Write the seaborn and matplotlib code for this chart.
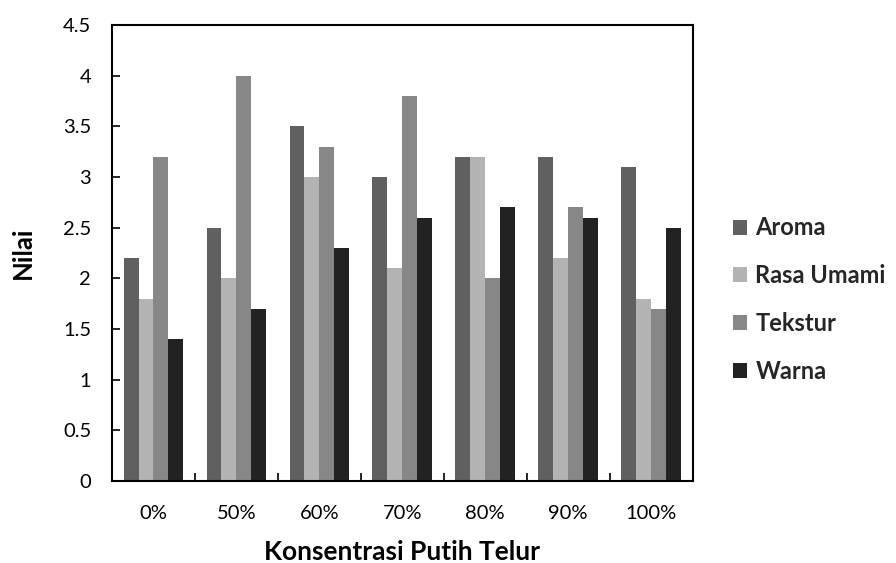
import matplotlib
matplotlib.use("Agg")
import matplotlib.pyplot as plt
import seaborn as sns
import pandas as pd
from matplotlib.patches import Patch
from matplotlib.ticker import FixedLocator

categories = ["0%", "50%", "60%", "70%", "80%", "90%", "100%"]
series_names = ["Aroma", "Rasa Umami", "Tekstur", "Warna"]
aroma = [2.2, 2.5, 3.5, 3.0, 3.2, 3.2, 3.1]
rasa_umami = [1.8, 2.0, 3.0, 2.1, 3.2, 2.2, 1.8]
tekstur = [3.2, 4.0, 3.3, 3.8, 2.0, 2.7, 1.7]
warna = [1.4, 1.7, 2.3, 2.6, 2.7, 2.6, 2.5]
y_ticks = [0, 0.5, 1, 1.5, 2, 2.5, 3, 3.5, 4, 4.5]
y_tick_labels = ["0", "0.5", "1", "1.5", "2", "2.5", "3", "3.5", "4", "4.5"]
colors = ["#606060", "#b3b3b3", "#878787", "#222222"]

rows = []
for name, vals in zip(series_names, [aroma, rasa_umami, tekstur, warna]):
    for c, v in zip(categories, vals):
        rows.append({"Konsentrasi": c, "Series": name, "Nilai": v})
df = pd.DataFrame(rows)

sns.set_theme(style="white")
plt.rcParams["font.family"] = ["Lato", "DejaVu Sans"]

fig = plt.figure(figsize=(8.96, 5.63), dpi=100)
ax = fig.add_axes([0.125, 0.1456, 0.648, 0.81])

sns.barplot(data=df, x="Konsentrasi", y="Nilai", hue="Series", order=categories,
            hue_order=series_names, palette=colors, width=0.72, saturation=1,
            ax=ax, legend=False, errorbar=None, linewidth=0)

ax.set_xlim(-0.5, len(categories) - 0.5)
ax.set_ylim(0, 4.5)
ax.set_yticks(y_ticks)
ax.set_yticklabels(y_tick_labels, fontsize=14.5, color="black")
ax.tick_params(axis="y", direction="in", length=6, width=1.2, color="black", left=True, pad=15)
ax.tick_params(axis="x", which="major", length=0, pad=17, labelsize=14.5, labelcolor="black")
ax.xaxis.set_minor_locator(FixedLocator([i + 0.5 for i in range(len(categories) - 1)]))
ax.tick_params(axis="x", which="minor", direction="in", length=6, width=1.2, color="black", bottom=True)

for s in ax.spines.values():
    s.set_visible(True)
    s.set_color("black")
    s.set_linewidth(1.5)

ax.set_xlabel("Konsentrasi Putih Telur", fontsize=19, fontweight="bold", labelpad=13, color="black")
ax.set_ylabel("Nilai", fontsize=18.5, fontweight="bold", labelpad=20, color="black")

handles = [Patch(facecolor=c, edgecolor="none") for c in colors]
fig.legend(handles, series_names, loc="center left", bbox_to_anchor=(0.818, 0.468),
           frameon=False, handlelength=0.6, handleheight=0.6, handletextpad=0.35,
           labelspacing=1.05, borderpad=0, borderaxespad=0,
           prop={"weight": "bold", "size": 17})

fig.savefig("out.png", dpi=100, facecolor="white")
